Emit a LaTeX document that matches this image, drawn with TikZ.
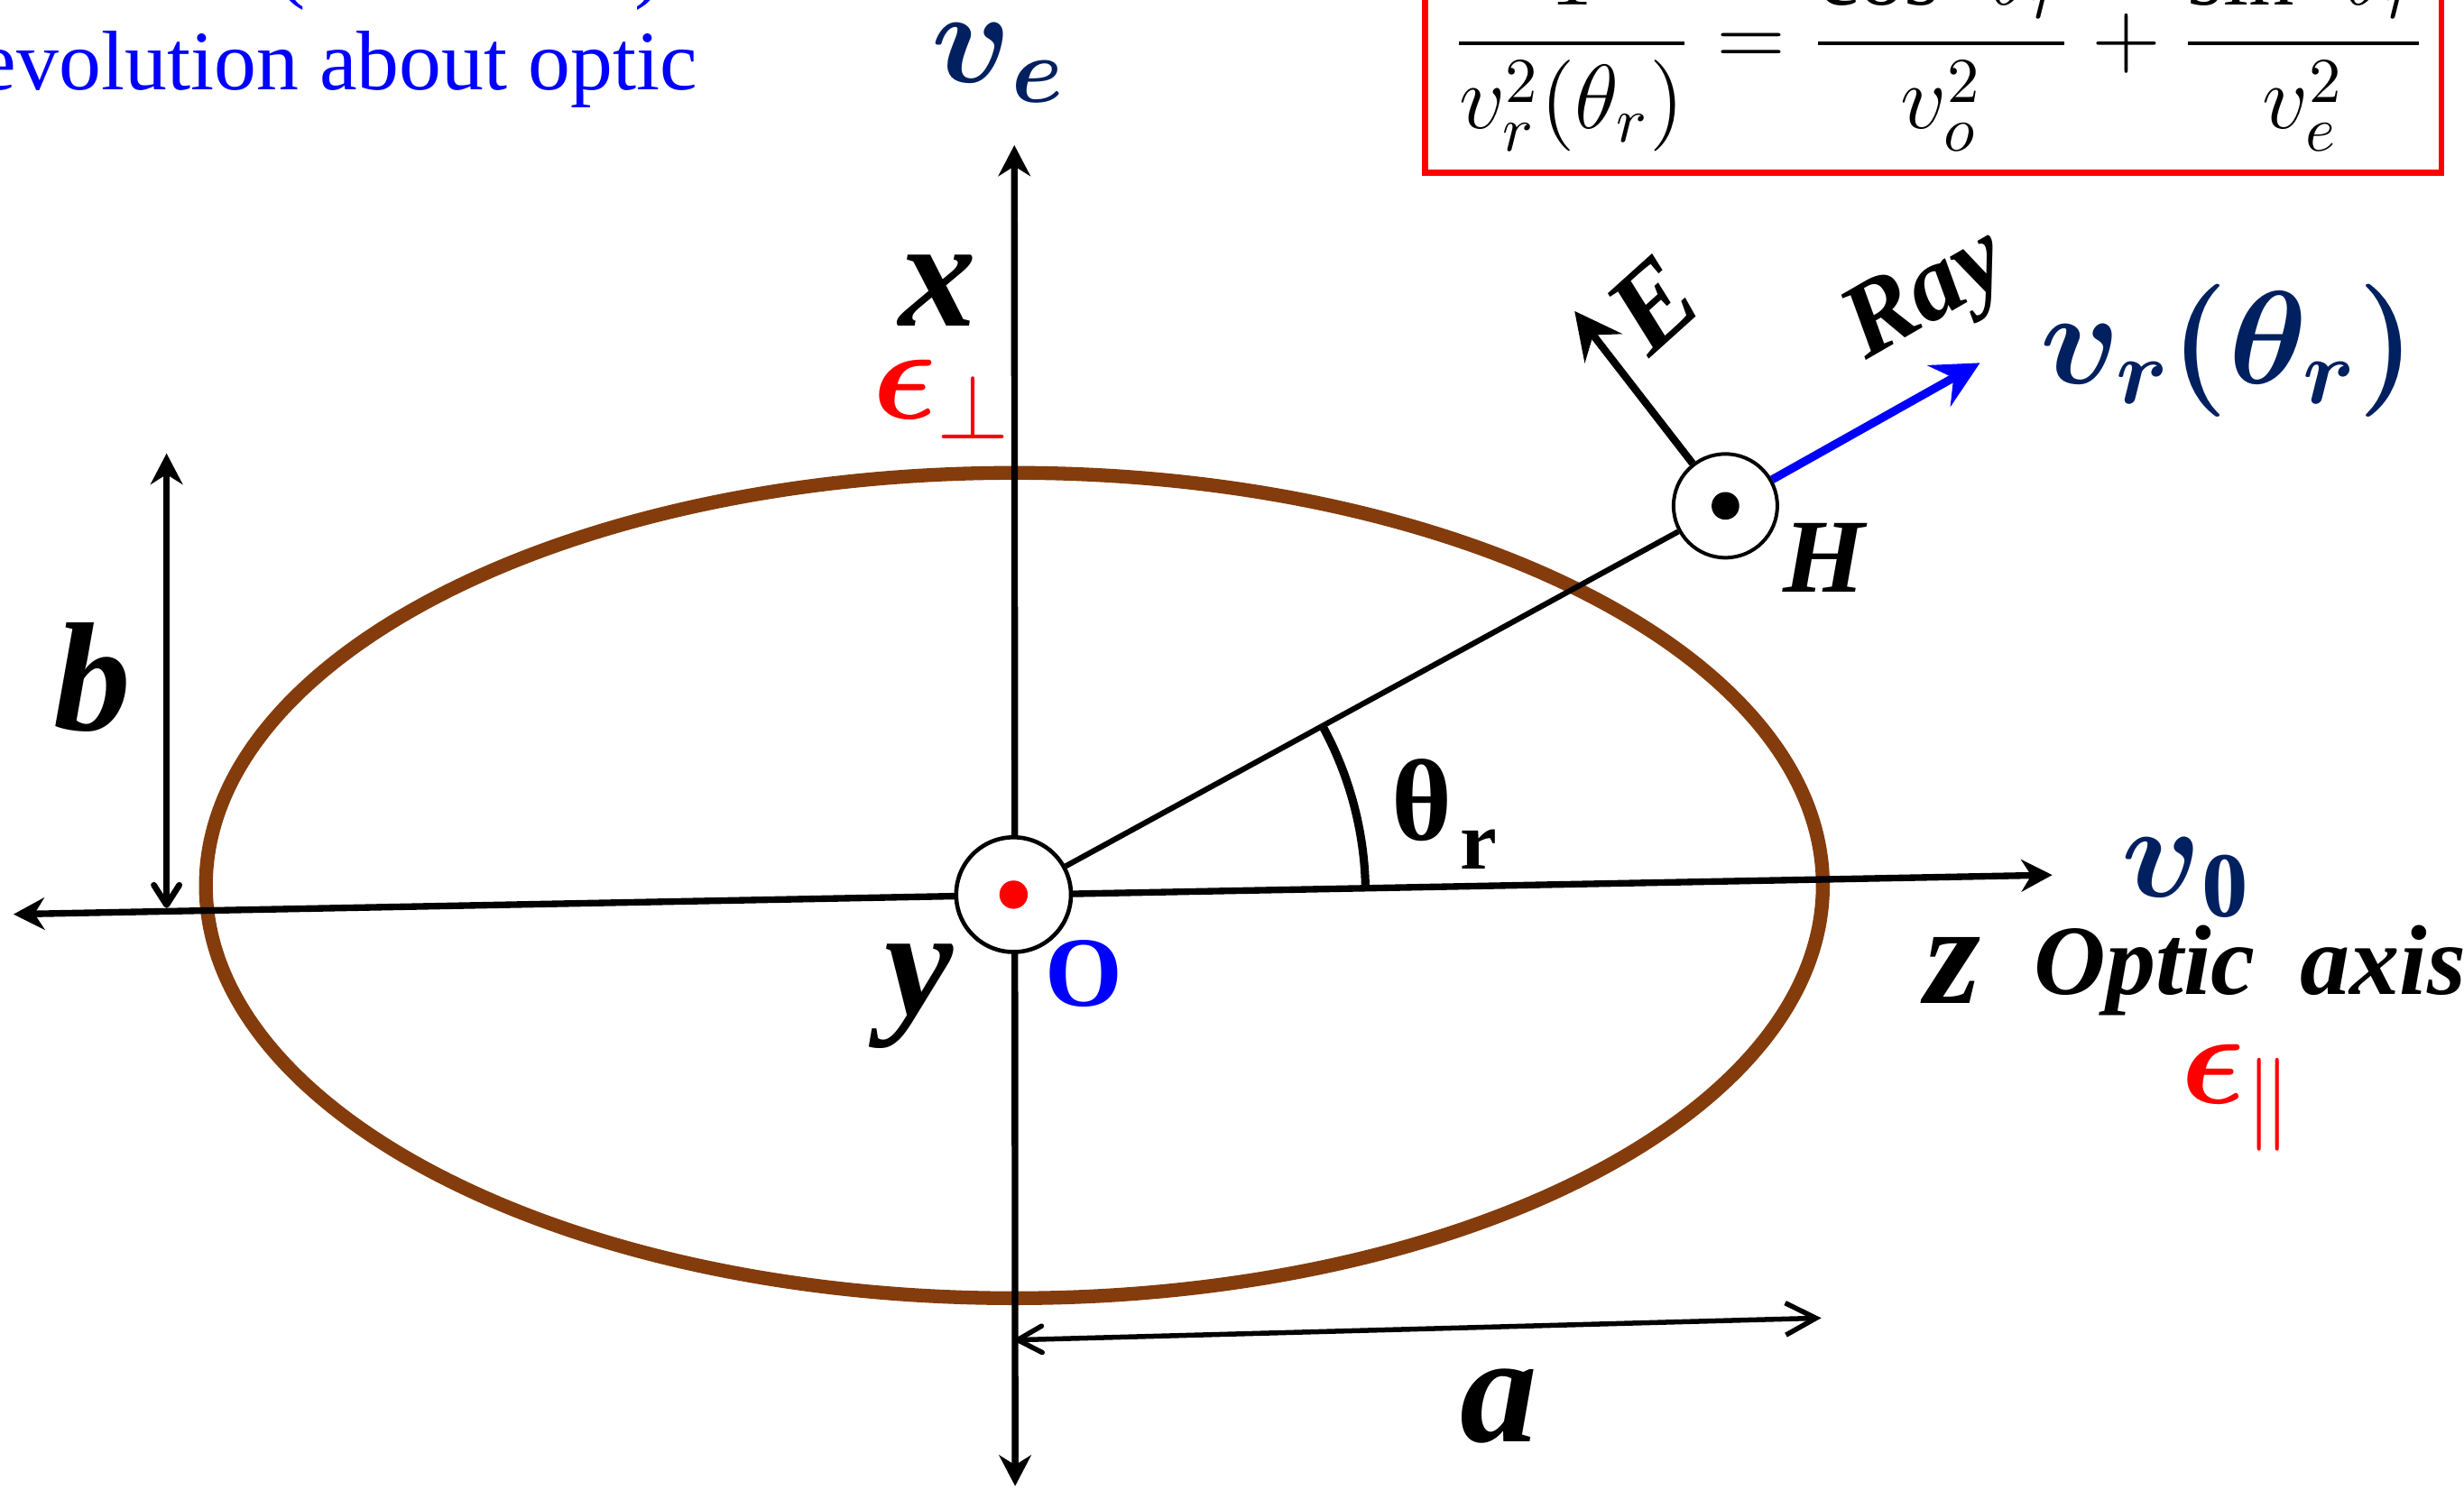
\RequirePackage{fix-cm}
\documentclass[tikz,border=0pt]{standalone}
\usepackage{amsmath}
\usepackage{fontspec}
\setmainfont{Liberation Serif}
\usepackage{xcolor}
\usepackage{tikz}
\usetikzlibrary{positioning,arrows.meta}
\definecolor{navy}{HTML}{002060}
\definecolor{rustbrown}{HTML}{843C0C}

\begin{document}
\begin{tikzpicture}[
x=0.01cm, y=-0.01cm,
lbl/.style={inner sep=0pt, font=\fontsize{28}{30}\selectfont\bfseries\itshape},
vel/.style={inner sep=0pt, text=navy, font=\fontsize{24}{28}\selectfont},
eps/.style={inner sep=0pt, text=red, font=\fontsize{24}{28}\selectfont},
dotc/.style={circle, draw, fill=white, inner sep=0pt, line width=0.75pt},
axis/.style={line width=1.2pt, {Stealth[length=5.6pt,width=5.8pt,inset=1.8pt]}-{Stealth[length=5.6pt,width=5.8pt,inset=1.8pt]}},
arr/.style={line width=1.35pt, -{Stealth[length=8.5pt,width=8.5pt,inset=3pt]}}
]
\useasboundingbox (0,0) rectangle (1568,948);
\clip (0,0) rectangle (1568,948);

% caption and formula, cut by the top edge
\node[anchor=base west, inner sep=0pt, text=blue, font=\fontsize{15.3}{18}\selectfont] (capa) at (176,-5) {(\hspace{59.5pt})};
\node[anchor=base west, inner sep=0pt, text=blue, font=\fontsize{15.3}{18}\selectfont] (capb) at (-14,57) {evolution about optic};
\node[anchor=base, inner sep=0pt, font=\fontsize{16.5}{20}\selectfont] (eqn) at (1234,42.2)
  {$\displaystyle \frac{1}{v_r^2(\theta_r)}=\frac{\cos^2\theta_r}{v_o^2}+\frac{\sin^2\theta_r}{v_e^2}$};
\coordinate (boxbl) at (907,110);
\coordinate (boxtr) at (1553.6,-80);
\draw[red, line width=1.1pt] (boxbl) rectangle (boxtr);

% index ellipse
\draw[rustbrown, line width=2.5pt] (645.5,563.7) ellipse [x radius=514.5, y radius=262.7];

% axes
\coordinate (zfar) at (1306,557);
\coordinate (zback) at (8.6,582);
\coordinate (xup) at (645.5,92.4);
\coordinate (xdown) at (646,946);
\draw[axis] (zback) -- (zfar);
\draw[axis] (xdown) -- (xup);

% semi-axes
\coordinate (bbot) at (106,578);
\coordinate (btop) at (106,288.6);
\draw[line width=1.1pt, {Straight Barb[round,length=3.6pt,width=4.6pt]}-{Stealth[length=5.6pt,width=5.8pt,inset=1.8pt]}] (bbot) -- (btop);
\coordinate (aleft) at (646,853);
\coordinate (aright) at (1159,839);
\draw[line width=0.9pt, {Straight Barb[round,length=4.4pt,width=4.8pt]}-{Straight Barb[length=5.5pt,width=5.8pt]}] (aleft) -- (aright);

% origin and field point
\node[dotc, minimum size=0.73cm] (oc) at (645,569.5) {};
\fill[red] (oc.center) circle [radius=9];
\node[dotc, minimum size=0.66cm, line width=0.65pt] (hc) at (1098,322) {};
\fill (hc.center) circle [radius=8.8];
\draw[line width=1pt] (oc) -- (hc);
\draw[line width=1.5pt] (oc.center) ++(-1.1:224) arc [start angle=-1.1, end angle=-28.6, radius=224];

\coordinate (vrtip) at (1260,231);
\coordinate (etip) at (1002,198);
\draw[arr, blue, line width=1.5pt] (hc) -- (vrtip);
\draw[arr] (hc) -- (etip);

% labels
\node[vel] (lve) at (635.5,40) {$\boldsymbol{v}_{\boldsymbol{e}}$};
\node[lbl] (lx) at (596.5,185) {x};
\node[eps] (lperp) at (599.5,254.5) {$\boldsymbol{\epsilon}_{\perp}$};
\node[lbl] (lb) at (59,431) {b};
\node[lbl, font=\fontsize{21}{24}\selectfont\bfseries\itshape, rotate=42] (lE) at (1052,194) {E};
\node[lbl, font=\fontsize{19}{22}\selectfont\bfseries\itshape, rotate=30] (lray) at (1227,190) {Ray};
\node[vel] (lvr) at (1418,223) {$\boldsymbol{v_r(\theta_r)}$};
\node[lbl, font=\fontsize{19}{22}\selectfont\bfseries\itshape] (lH) at (1161,355) {H};
\node[inner sep=0pt, font=\fontsize{21}{24}\selectfont\bfseries] (lth) at (919,518)
  {θ\kern1.5pt\raisebox{-0.25em}{\fontsize{15}{18}\selectfont r}};
\node[vel] (lv0) at (1391.5,558.7) {$\boldsymbol{v}_{\mathbf{0}}$};
\node[lbl, font=\fontsize{26}{28}\selectfont\bfseries\itshape] (lz) at (1242.5,618) {z};
\node[lbl, font=\fontsize{18}{22}\selectfont\bfseries\itshape, anchor=base] (lopt) at (1432,633) {Optic\hspace{0.45em}axis};
\node[eps] (lpar) at (1424,699) {$\boldsymbol{\epsilon}_{\parallel}$};
\node[inner sep=0pt, text=blue, font=\fontsize{18}{22}\selectfont\bfseries] (lO) at (690,620) {O};
\node[lbl] (ly) at (585,634) {y};
\node[lbl] (la) at (953.6,895) {a};
\end{tikzpicture}
\end{document}
